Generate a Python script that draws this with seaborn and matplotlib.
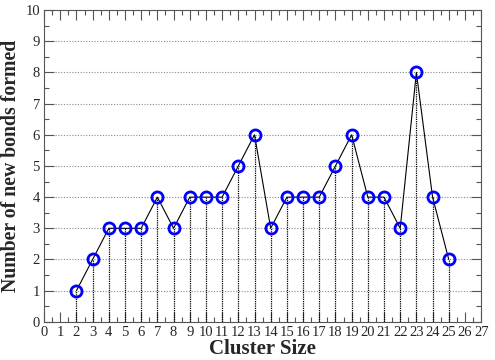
import matplotlib
matplotlib.use('Agg')
import matplotlib.pyplot as plt
import pandas as pd
import seaborn as sns
from matplotlib.ticker import MultipleLocator

# data
cluster_size=[2,3,4,5,6,7,8,9,10,11,12,13,14,15,16,17,18,19,20,21,22,23,24,25]
new_bonds=[1,2,3,3,3,4,3,4,4,4,5,6,3,4,4,4,5,6,4,4,3,8,4,2]

df=pd.DataFrame({'size':cluster_size,'bonds':new_bonds})

sns.set_style('ticks')
plt.rcParams['font.family']=['Liberation Serif','DejaVu Serif']

fig=plt.figure(figsize=(4.95,3.6),dpi=100)
ax=fig.add_axes([0.089,0.106,0.883,0.866])

#dotted horizontal grid
for y in range(1,10):
     ax.axhline(y,color='#888888',lw=0.8,ls=(0,(1,1.5)),zorder=0)

#drop lines from each point down to zero
ax.vlines(df['size'],0,df['bonds'],colors='black',lw=0.9,ls=(0,(1,0.8)),zorder=1)

sns.lineplot(data=df,x='size',y='bonds',ax=ax,color='black',lw=0.8,
             marker='o',markersize=8,markerfacecolor='none',
             markeredgecolor='#0000ff',markeredgewidth=2,zorder=3)

ax.set_xlim(0,27)
ax.set_ylim(0,10)
ax.xaxis.set_major_locator(MultipleLocator(1))
ax.xaxis.set_minor_locator(MultipleLocator(0.5))
ax.yaxis.set_major_locator(MultipleLocator(1))
ax.yaxis.set_minor_locator(MultipleLocator(0.5))
ax.tick_params(which='both',direction='in',top=True,right=True,color='#555555')
ax.tick_params(which='major',length=7,width=0.8,labelsize=10.5,pad=3)
ax.tick_params(which='minor',length=3.5,width=0.8)
for s in ax.spines.values():
     s.set_color('#555555')
     s.set_linewidth(0.8)

ax.set_xlabel('Cluster Size',fontsize=15,fontweight='bold',labelpad=0)
ax.set_ylabel('Number of new bonds formed',fontsize=14.2,fontweight='bold',labelpad=3)

fig.savefig('out.png',dpi=100)
